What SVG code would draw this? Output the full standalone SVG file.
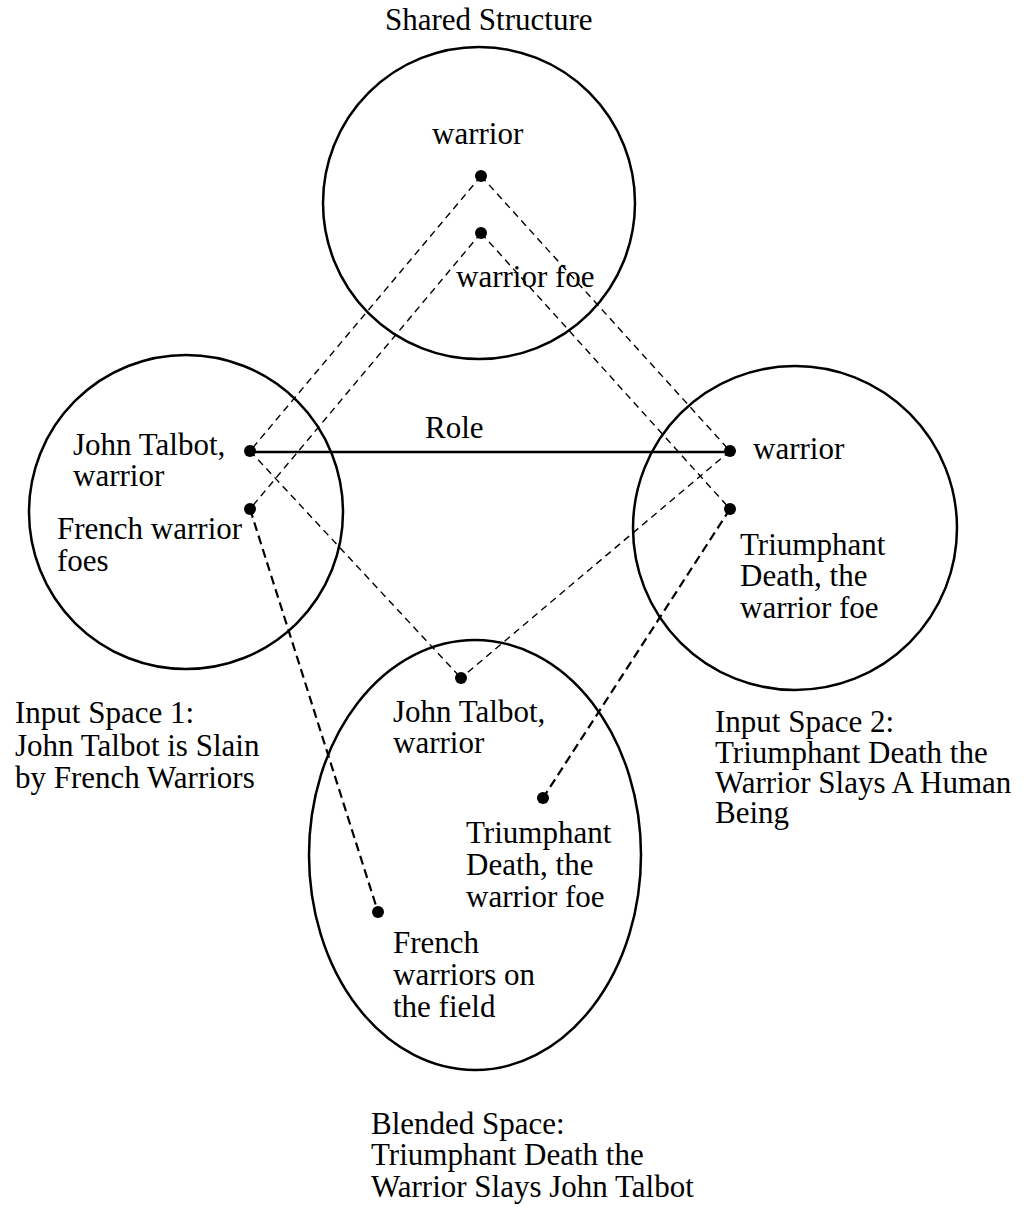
<svg xmlns="http://www.w3.org/2000/svg" width="1030" height="1207" viewBox="0 0 1030 1207">
<style>
text{font-family:"Liberation Serif","Times New Roman",serif;font-size:31px;fill:#000}
.sp{fill:none;stroke:#000;stroke-width:2.5}
.dot{fill:#000}
.thin{fill:none;stroke:#000;stroke-width:1.4;stroke-dasharray:7 5}
.thick{fill:none;stroke:#000;stroke-width:2.2;stroke-dasharray:9 5}
.role{fill:none;stroke:#000;stroke-width:2.7}
</style>
<rect width="1030" height="1207" fill="#fff"/>
<g id="connectors">
<line class="thin" x1="481" y1="176" x2="250" y2="451"/>
<line class="thin" x1="481" y1="176" x2="730" y2="451"/>
<line class="thin" x1="481" y1="233" x2="250" y2="509"/>
<line class="thin" x1="481" y1="233" x2="730" y2="509"/>
<line class="thin" x1="250" y1="451" x2="461" y2="678"/>
<line class="thin" x1="730" y1="451" x2="461" y2="678"/>
<line class="thick" x1="250" y1="509" x2="378" y2="912"/>
<line class="thick" x1="730" y1="509" x2="543" y2="798"/>
<line class="role" x1="250" y1="452" x2="730" y2="452"/>
<text x="425" y="438">Role</text>
</g>
<g id="shared">
<circle class="sp" cx="479" cy="203" r="156"/>
<text x="385" y="30">Shared Structure</text>
<text x="432" y="144">warrior</text>
<text x="456" y="287">warrior foe</text>
<circle class="dot" cx="481" cy="176" r="6"/>
<circle class="dot" cx="481" cy="233" r="6"/>
</g>
<g id="input1">
<circle class="sp" cx="186" cy="512" r="157"/>
<text x="73" y="455">John Talbot,</text>
<text x="73" y="486">warrior</text>
<text x="57" y="539">French warrior</text>
<text x="57" y="571">foes</text>
<circle class="dot" cx="250" cy="451" r="6"/>
<circle class="dot" cx="250" cy="509" r="6"/>
<text x="15" y="723">Input Space 1:</text>
<text x="15" y="756">John Talbot is Slain</text>
<text x="15" y="788">by French Warriors</text>
</g>
<g id="input2">
<circle class="sp" cx="795" cy="528" r="162"/>
<text x="753" y="459">warrior</text>
<text x="740" y="555">Triumphant</text>
<text x="740" y="586">Death, the</text>
<text x="740" y="618">warrior foe</text>
<circle class="dot" cx="730" cy="451" r="6"/>
<circle class="dot" cx="730" cy="509" r="6"/>
<text x="715" y="732">Input Space 2:</text>
<text x="715" y="763">Triumphant Death the</text>
<text x="715" y="793">Warrior Slays A Human</text>
<text x="715" y="823">Being</text>
</g>
<g id="blend">
<ellipse class="sp" cx="475" cy="855" rx="166" ry="215"/>
<text x="393" y="722">John Talbot,</text>
<text x="393" y="753">warrior</text>
<text x="466" y="843">Triumphant</text>
<text x="466" y="875">Death, the</text>
<text x="466" y="907">warrior foe</text>
<text x="393" y="953">French</text>
<text x="393" y="985">warriors on</text>
<text x="393" y="1017">the field</text>
<circle class="dot" cx="461" cy="678" r="6"/>
<circle class="dot" cx="543" cy="798" r="6"/>
<circle class="dot" cx="378" cy="912" r="6"/>
<text x="371" y="1134">Blended Space:</text>
<text x="371" y="1165">Triumphant Death the</text>
<text x="371" y="1197">Warrior Slays John Talbot</text>
</g>
</svg>
